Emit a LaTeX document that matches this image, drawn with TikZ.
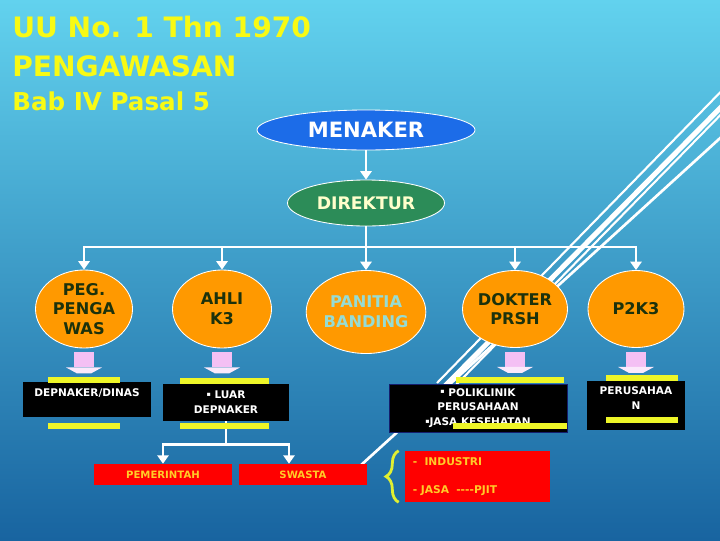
\documentclass[tikz,border=0pt]{standalone}
\usepackage{fontspec}
\setmainfont{DejaVu Sans}
\usetikzlibrary{arrows.meta,positioning,shapes.geometric,calc,decorations.pathreplacing}
\definecolor{bgtop}{RGB}{98,210,238}
\definecolor{bgbot}{RGB}{24,100,160}
\definecolor{uuyellow}{RGB}{248,250,20}
\definecolor{menblue}{RGB}{28,108,232}
\definecolor{dirgreen}{RGB}{44,140,88}
\definecolor{dirtext}{RGB}{255,255,204}
\definecolor{orgfill}{RGB}{255,153,0}
\definecolor{orgtext}{RGB}{28,50,12}
\definecolor{pantext}{RGB}{150,220,212}
\definecolor{pinkarr}{RGB}{244,192,244}
\definecolor{barylw}{RGB}{238,246,40}
\definecolor{braceyl}{RGB}{225,240,50}
\definecolor{redtext}{RGB}{255,204,40}
\definecolor{polinavy}{RGB}{20,30,110}
\newcommand\pxu{0.025cm}
\newcommand\sqbul{\raisebox{1.8pt}{\fontsize{4.5}{4.5}\selectfont ▪}}
\tikzset{
  oval/.style={ellipse,draw=white,line width=0.6pt,fill=#1,inner sep=0pt,align=center},
  oval/.default=orgfill,
  ovaltxt/.style={text=#1,font=\fontsize{11.5}{14}\selectfont\bfseries},
  ovaltxt/.default=orgtext,
  blackbox/.style={rectangle,fill=black,text=white,inner sep=0pt,align=center,
                   font=\fontsize{7.5}{10.5}\selectfont\bfseries},
  redbox/.style={rectangle,fill=red,text=redtext,inner sep=0pt,
                 font=\fontsize{7.2}{10}\selectfont\bfseries},
  warr/.style={white,line width=2pt,-{Triangle[length=6pt,width=8pt]}},
  wline/.style={white,line width=2pt},
  ybar/.style={fill=barylw},
  bracey/.style={decorate,decoration={brace,amplitude=9pt},draw=braceyl,line width=2pt},
  titletxt/.style={text=uuyellow,inner sep=0pt,anchor=base west,
                   font=\fontsize{#1}{#1}\selectfont\bfseries},
  titletxt/.default=20,
}
\begin{document}
\begin{tikzpicture}[x=\pxu,y=-\pxu]
  \shade[top color=bgtop,bottom color=bgbot] (0,0) rectangle (720,540);
  \useasboundingbox (0,0) rectangle (720,540);

  % streaks in the background
  \foreach \xa/\ya/\xb/\yb/\w in {740/72/437/383/1.5, 740/88/445/386/3.6,
                                  740/95/455/386/1.5, 740/120/360/466/1.9}
    \draw[white,line width=\w pt] (\xa,\ya) -- (\xb,\yb);

  \node[titletxt] (uu) at (12,37) {UU No. 1 Thn 1970};
  \node[titletxt] (pengawasan) at (12,76) {PENGAWASAN};
  \node[titletxt=17.5] (bab) at (12,110) {Bab IV Pasal 5};

  \node[oval=menblue,minimum width=218*\pxu,minimum height=40*\pxu,text=white,
        font=\fontsize{15}{15}\selectfont\bfseries] (menaker) at (366,130) {MENAKER};
  \node[oval=dirgreen,minimum width=157*\pxu,minimum height=46*\pxu,text=dirtext,
        font=\fontsize{12.3}{12}\selectfont\bfseries] (direktur) at (366,203) {DIREKTUR};

  \node[oval,ovaltxt,minimum width=97*\pxu,minimum height=78*\pxu] (peg) at (84,309) {PEG.\\PENGA\\WAS};
  \node[oval,ovaltxt,minimum width=99*\pxu,minimum height=78*\pxu] (ahli) at (222,309) {AHLI\\K3};
  \node[oval,ovaltxt=pantext,minimum width=113*\pxu,minimum height=83*\pxu] (panitia) at (366,312) {PANITIA\\BANDING};
  \node[oval,ovaltxt,minimum width=95*\pxu,minimum height=77*\pxu] (dokter) at (515,309) {DOKTER\\PRSH};
  \node[oval,ovaltxt,minimum width=96*\pxu,minimum height=77*\pxu] (ptk) at (636,309) {P2K3};

  \coordinate (bar) at (366,247);
  \draw[warr] (menaker.south) -- (direktur.north);
  \draw[wline] (direktur.south) -- (bar);
  \foreach \n in {peg,ahli,panitia,dokter,ptk}
    \draw[warr] (bar) -| (\n.north);

  \node[blackbox,minimum width=128*\pxu,minimum height=35*\pxu] (depnaker) at (87,399.5) {DEPNAKER/DINAS\\ \mbox{}};
  \node[blackbox,minimum width=126*\pxu,minimum height=37*\pxu] (luar) at (226,402.5) {\sqbul\ LUAR\\DEPNAKER};
  \node[blackbox,draw=polinavy,minimum width=178*\pxu,minimum height=48*\pxu] (poli) at (478,408) {\sqbul\ POLIKLINIK\\PERUSAHAAN\\\sqbul JASA KESEHATAN};
  \node[blackbox,minimum width=98*\pxu,minimum height=49*\pxu] (perusahaan) at (636,405.5) {PERUSAHAA\\N\\ \mbox{}};

  \node[redbox,minimum width=138*\pxu,minimum height=21*\pxu] (pemerintah) at (163,474.5) {PEMERINTAH};
  \node[redbox,minimum width=128*\pxu,minimum height=21*\pxu] (swasta) at (303,474.5) {SWASTA};
  \node[redbox,text width=91.8pt,inner xsep=5.7pt,minimum height=51*\pxu,align=left,
        font=\fontsize{7.6}{10}\selectfont\bfseries] (sektor) at (477.5,476.5)
       {-\ \ INDUSTRI\\[10pt]- JASA\ \ -{}-{}-{}-PJIT};

  \draw[wline] (luar.south) -- ++(0,23) coordinate (split);
  \draw[warr] (split) -| (pemerintah.north);
  \draw[warr] (split) -| ([xshift=-14*\pxu]swasta.north);

  % yellow strips on the black boxes
  \foreach \xa/\xb/\ya in {48/120/377, 48/120/423, 180/269/378, 180/269/423,
                           456/564/377, 453/567/423, 606/678/375, 606/678/417}
    \fill[ybar] (\xa,\ya) rectangle (\xb,\ya+6);

  % pink block arrows
  \foreach \n in {peg,ahli,dokter,ptk}{
    \fill[pinkarr] ($(\n.south)+(-10,4)$) rectangle ($(\n.south)+(10,19)$);
    \fill[pinkarr!35!white] ($(\n.south)+(-18,19)$) -- ($(\n.south)+(18,19)$)
      -- ($(\n.south)+(7,25)$) -- ($(\n.south)+(-7,25)$) -- cycle;
  }

  \draw[bracey] ([xshift=-6*\pxu]sektor.south west) -- ([xshift=-6*\pxu]sektor.north west);
\end{tikzpicture}
\end{document}
